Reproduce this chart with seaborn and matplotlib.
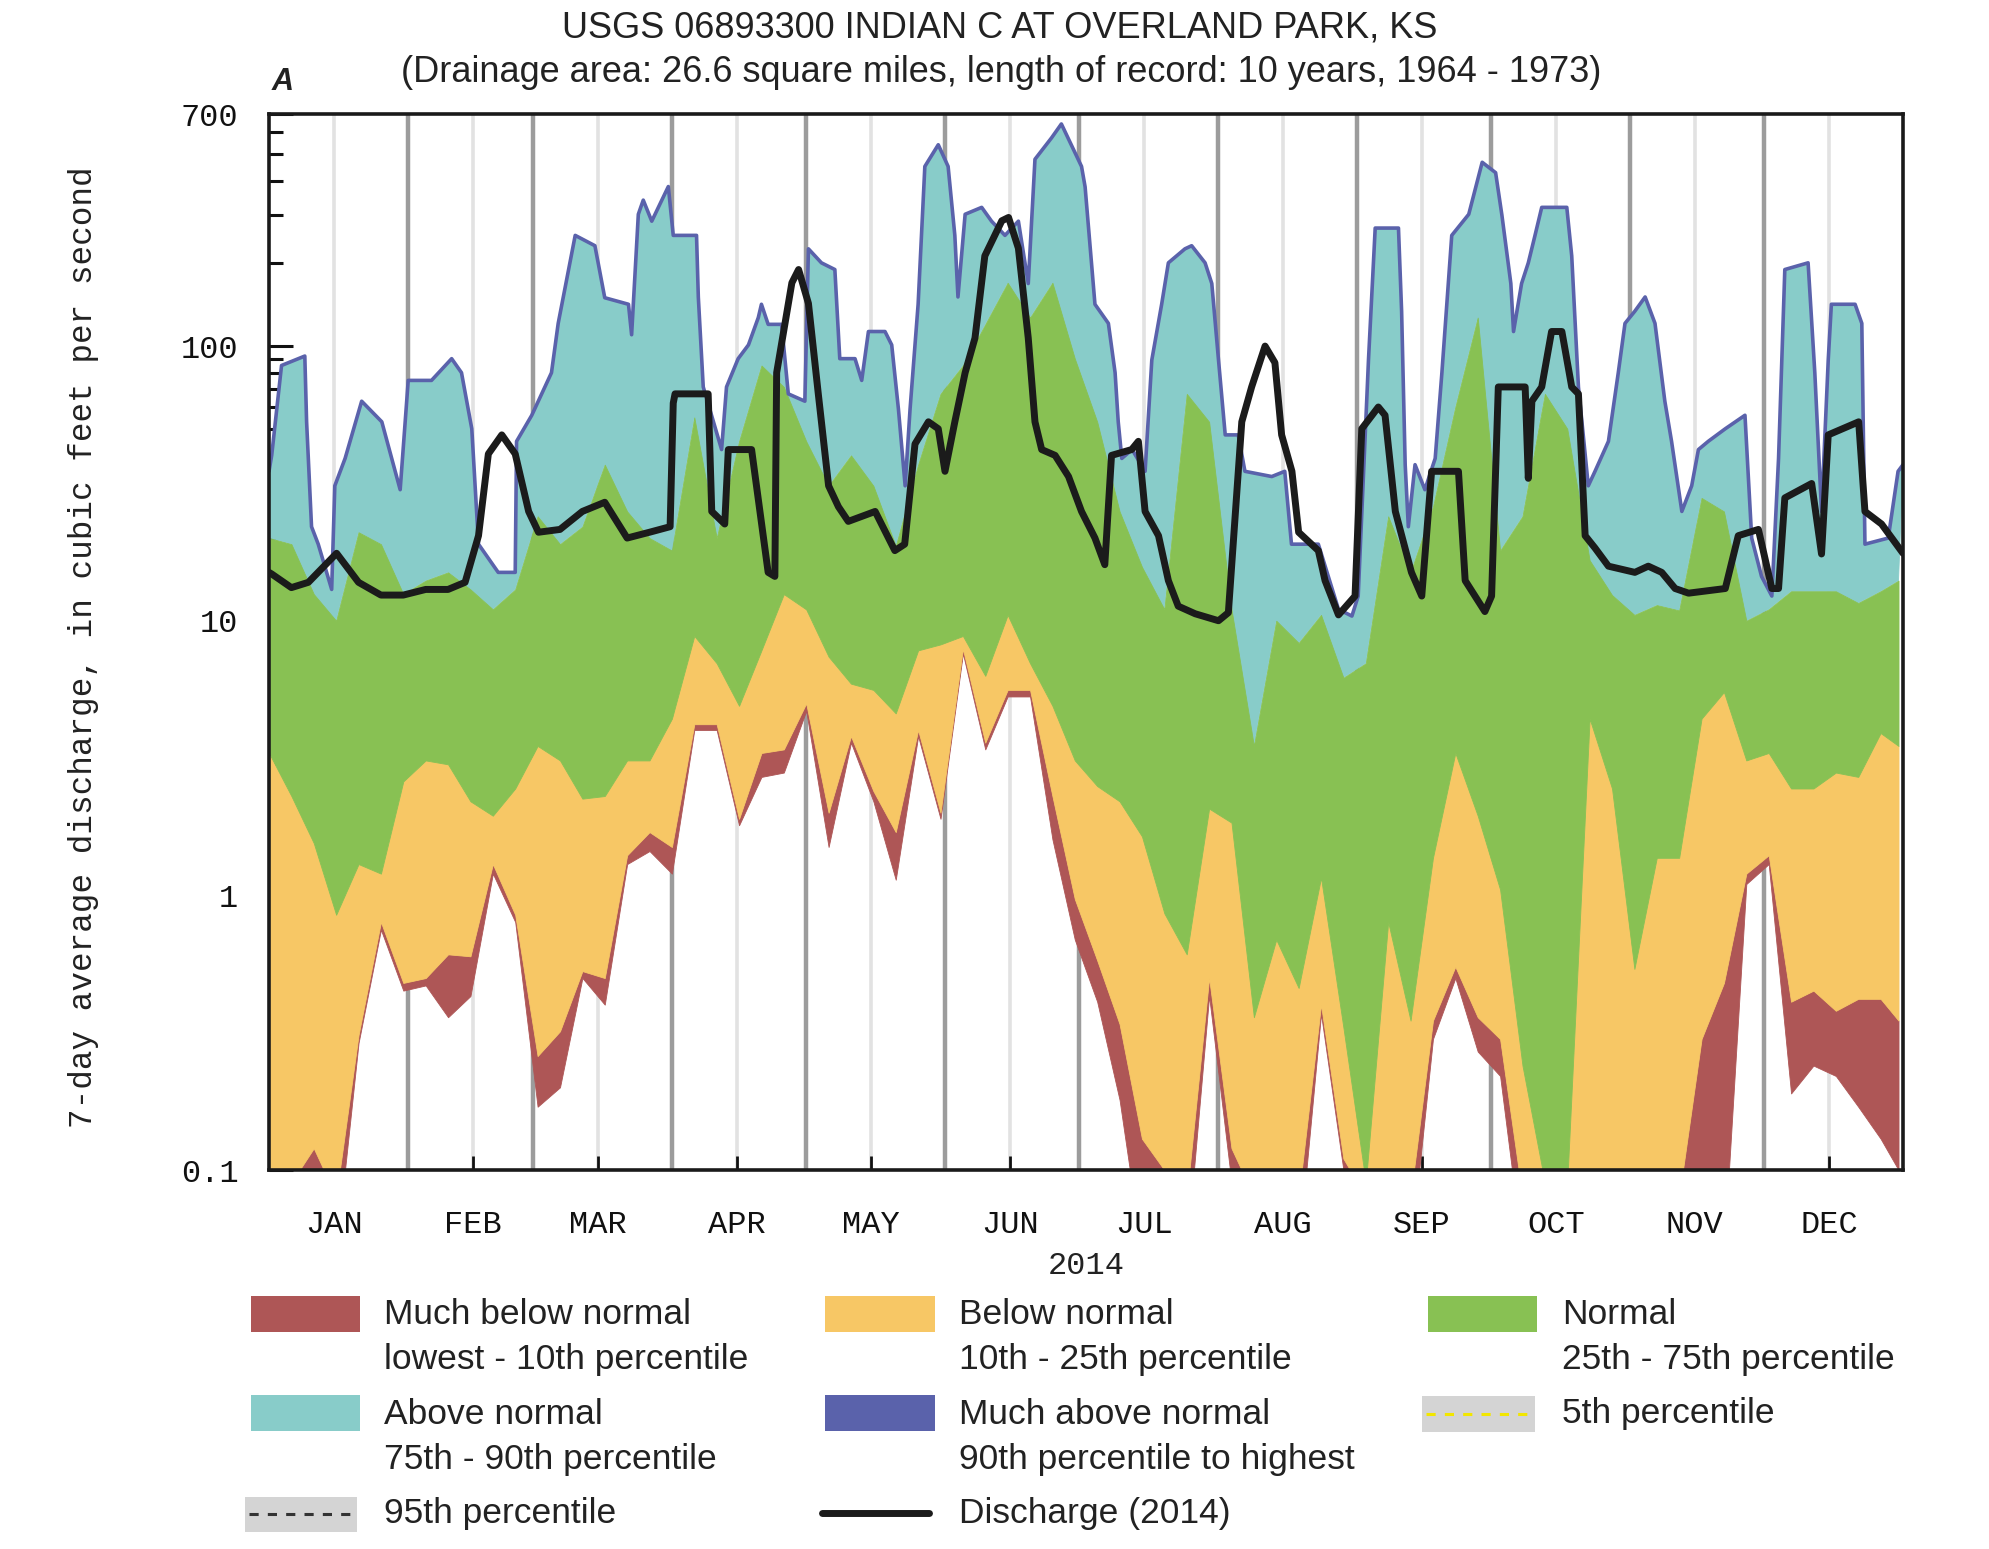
import matplotlib
matplotlib.use("Agg")
import matplotlib.pyplot as plt
from matplotlib.patches import Rectangle
from matplotlib.lines import Line2D
from matplotlib.ticker import FixedLocator, NullLocator
import pandas as pd
import seaborn as sns

# ---------------- data (7-day average discharge, cfs) ----------------
# percentile bands read on a 5-day grid (day of year, 0 = Jan 1)
days = list(range(0, 361, 5)) + [364]

pct_lowest = [0.05, 0.05, 0.05, 0.05, 0.29, 0.75, 0.45, 0.47, 0.36, 0.43,
              1.2, 0.8, 0.17, 0.2, 0.5, 0.4, 1.3, 1.45, 1.2, 4.0,
              4.0, 1.8, 2.7, 2.8, 4.7, 1.5, 3.6, 2.2, 1.14, 3.8,
              1.9, 7.6, 3.4, 5.3, 5.3, 1.6, 0.69, 0.41, 0.18, 0.05,
              0.09, 0.05, 0.43, 0.09, 0.05, 0.05, 0.05, 0.37, 0.1, 0.05,
              0.05, 0.05, 0.3, 0.5, 0.27, 0.22, 0.05, 0.05, 0.05, 0.05,
              0.05, 0.05, 0.05, 0.05, 0.05, 0.05, 1.1, 1.3, 0.19, 0.24,
              0.22, 0.17, 0.13, 0.1]

pct10 = [0.08, 0.09, 0.12, 0.08, 0.31, 0.8, 0.48, 0.5, 0.61, 0.6,
         1.3, 0.85, 0.26, 0.32, 0.53, 0.5, 1.4, 1.7, 1.5, 4.2,
         4.2, 1.9, 3.3, 3.4, 5.0, 2.0, 3.8, 2.4, 1.7, 4.0,
         2.0, 7.9, 3.6, 5.6, 5.6, 2.3, 0.97, 0.58, 0.34, 0.13,
         0.1, 0.08, 0.5, 0.12, 0.08, 0.08, 0.08, 0.4, 0.11, 0.08,
         0.08, 0.08, 0.35, 0.55, 0.36, 0.3, 0.08, 0.08, 0.08, 0.08,
         0.08, 0.08, 0.08, 0.08, 0.3, 0.48, 1.2, 1.4, 0.41, 0.45,
         0.38, 0.42, 0.42, 0.35]

pct25 = [3.3, 2.3, 1.55, 0.85, 1.3, 1.2, 2.6, 3.1, 3.0, 2.2,
         1.95, 2.45, 3.5, 3.1, 2.25, 2.3, 3.1, 3.1, 4.4, 8.8,
         7, 4.9, 7.8, 12.5, 11, 7.4, 5.9, 5.6, 4.6, 7.8,
         8.2, 8.8, 6.3, 10.5, 7, 4.9, 3.1, 2.5, 2.2, 1.64,
         0.86, 0.61, 2.07, 1.84, 0.36, 0.69, 0.46, 1.16, 0.33, 0.09,
         0.8, 0.35, 1.37, 3.3, 1.95, 1.05, 0.24, 0.09, 0.09, 4.4,
         2.45, 0.54, 1.37, 1.37, 4.4, 5.5, 3.1, 3.3, 2.45, 2.45,
         2.8, 2.7, 3.9, 3.5]

pct75 = [20, 19, 12.5, 10, 21, 19, 12.5, 14, 15, 13,
         11, 13, 24, 19, 22, 37, 25, 20, 18, 55,
         20, 45, 85, 71, 45, 31, 40, 31, 18.7, 37,
         67, 85, 120, 170, 127, 170, 90, 53, 25, 15.7,
         11, 67, 53, 11, 3.5, 10, 8.3, 10.5, 6.2, 7,
         24, 15, 26, 60, 127, 18, 24, 67, 50, 16.6,
         12.4, 10.5, 11.4, 10.9, 28, 25, 10, 11, 12.8, 12.8,
         12.8, 11.6, 12.8, 14]

# 90th percentile (top of "above normal", outlined in blue): (day, cfs)
pct90_points = [
    (0, 35), (0.6, 40), (2.8, 85), (8, 92), (8.4, 53), (9.5, 22), (11, 19),
    (14, 13), (14.7, 31), (17, 39), (20.7, 63), (25.2, 53), (27.4, 39),
    (29.3, 30), (31.1, 75), (36.3, 75), (40.8, 90), (43, 80), (45.3, 50),
    (46.8, 19), (51.2, 15), (55, 15), (55.3, 45), (58.7, 56), (63.1, 80),
    (64.6, 121), (68.4, 253), (72.8, 232), (75, 150), (80.3, 142), (81, 110),
    (82.5, 302), (83.6, 340), (85.5, 285), (89.2, 381), (90.3, 253),
    (95.5, 253), (95.9, 151), (97, 71), (101.1, 42), (102.2, 71), (104.8, 90),
    (107.1, 101), (109.3, 127), (110, 142), (111.5, 120), (114.5, 120),
    (116, 67), (119.7, 63), (120.5, 226), (123.4, 201), (126.4, 190),
    (127.5, 90), (130.9, 90), (132.4, 75), (133.9, 113), (137.6, 113),
    (139.1, 101), (140.6, 59), (142.1, 31), (143.2, 59), (145, 142),
    (146.5, 451), (149.5, 541), (151.7, 451), (153.2, 253), (153.9, 151),
    (155.5, 302), (159.2, 320), (161.4, 285), (164.4, 253), (167.4, 285),
    (169.6, 169), (171.1, 479), (174.8, 573), (177, 644), (181.5, 451),
    (182.3, 380), (184.5, 142), (187.5, 121), (189, 80), (189.7, 53),
    (190.5, 39), (192.8, 42), (195.7, 35), (197.2, 89), (199.4, 142),
    (200.9, 201), (204.6, 226), (206.1, 232), (209.1, 201), (210.6, 169),
    (212.1, 89), (213.6, 47.5), (216.5, 47.5), (218, 35), (224, 33.5),
    (226.9, 35), (228.4, 19), (234.4, 19), (238.9, 11), (241.9, 10.4),
    (243.3, 12.3), (245.6, 89), (247.1, 269), (252.3, 269), (253, 134),
    (253.8, 37), (254.5, 22), (256, 37), (258.2, 30), (260.5, 39), (262, 80),
    (264.2, 253), (268, 302), (271, 467), (274, 428),
    (275.4, 300), (277.4, 169), (278, 113), (279.8, 169), (281.3, 201),
    (282.8, 253), (284.3, 320), (289.9, 320), (291, 213), (292.5, 71),
    (294.7, 31), (296.2, 35), (299.2, 45), (301.4, 80), (302.9, 121),
    (305.1, 134), (307.4, 151), (309.6, 121), (311.8, 63), (313.3, 45),
    (315.6, 25), (317.8, 31), (319.3, 42), (321.5, 45), (325.3, 50),
    (329.7, 56), (331.2, 20), (333.4, 14.5), (335.7, 12.3), (337.2, 39),
    (338.6, 190), (343.8, 201), (345.3, 80), (346.8, 25), (348.3, 89),
    (349, 142), (354.3, 142), (355.8, 121), (356.5, 19), (361.7, 20),
    (363.9, 35), (365, 37)]

# 2014 daily discharge (7-day average): (day, cfs)
discharge_points = [
    (0, 15), (0.6, 14.8), (5, 13.2), (8.8, 13.8), (15.1, 17.6), (20, 13.8),
    (25, 12.4), (30, 12.4), (35, 13), (40, 13), (43.8, 13.8), (46.8, 20.4),
    (49, 40.5), (52, 47.5), (55, 40.5), (58, 25), (60.2, 21), (65, 21.5),
    (70, 25), (75, 27), (80, 20), (85, 21), (89.6, 22), (90.3, 62),
    (90.7, 67), (98.1, 67), (98.9, 25), (101.8, 22.5), (102.6, 42),
    (107.8, 42), (111.5, 15), (113, 14.5), (113.4, 80), (116.8, 170),
    (118.3, 190), (120.5, 143), (122.7, 67), (125, 31), (127.2, 26),
    (129.4, 23), (135.4, 25), (139.8, 18), (142, 19), (144.3, 44),
    (147.3, 53), (149.5, 50), (151, 35), (153.2, 53), (155.5, 80),
    (157.7, 107), (159.9, 213), (163.7, 286), (165.2, 294), (167.4, 227),
    (169.6, 107), (171.1, 53), (172.6, 42), (175.6, 40), (178.6, 33.5),
    (181.5, 25), (184.5, 20), (186.7, 16), (188.2, 40), (192.7, 42),
    (194.2, 45), (195.7, 25), (198.7, 20.4), (200.9, 14), (203.1, 11.3),
    (206.9, 10.6), (212.1, 10), (214.3, 10.7), (217.3, 53), (219.5, 71),
    (222.5, 100), (224.7, 87), (226.2, 47.5), (228.5, 35), (230, 21),
    (234.4, 18), (235.9, 14), (238.9, 10.5), (242.6, 12.3), (244.1, 50),
    (247.8, 60), (249.3, 56), (251.6, 25), (255.2, 15), (257.5, 12.3),
    (259.7, 35), (265.7, 35), (267.2, 14), (271.6, 10.8), (273.1, 12.3),
    (274.6, 71), (280.6, 71), (281.3, 33), (282.1, 63), (284.3, 71),
    (286.5, 113), (288.8, 113), (291, 71), (292.5, 67), (294, 20.4),
    (296.2, 18.4), (299.2, 15.8), (305.1, 15), (308.1, 15.8), (311.1, 15),
    (314.1, 13.1), (317.1, 12.6), (325.3, 13.1), (328.2, 20.4),
    (332.7, 21.5), (335.7, 13.1), (337.2, 13.1), (338.6, 28), (344.6, 31.6),
    (346.8, 17.5), (348.3, 47.5), (355.1, 53), (356.5, 25), (360.2, 22.5),
    (365, 17.6)]

month_labels = ["JAN", "FEB", "MAR", "APR", "MAY", "JUN",
                "JUL", "AUG", "SEP", "OCT", "NOV", "DEC"]
month_starts = [0, 31, 59, 90, 120, 151, 181, 212, 243, 273, 304, 334]
y_major = [0.1, 1, 10, 100, 700]
y_major_labels = ["0.1", "1", "10", "100", "700"]

# ---------------- style ----------------
RED = "#ae5656"
YEL = "#f7c765"
GRN = "#88c153"
CYN = "#88ccc9"
BLU = "#5a62ab"
GRAY_PATCH = "#d4d4d4"

sns.set_theme(style="white")
plt.rcParams["font.family"] = ["Liberation Sans", "DejaVu Sans"]
MONO = ["Liberation Mono", "DejaVu Sans Mono"]

W, H = 1989, 1549
fig = plt.figure(figsize=(W / 100, H / 100), dpi=100)
fig.patch.set_facecolor("white")


def fx(px):
    return px / W


def fy(py):
    return 1 - py / H


ax = fig.add_axes([fx(269), fy(1170), (1903 - 269) / W, (1170 - 114) / H])
ax.set_facecolor("white")
ax.set_yscale("log")
ax.set_ylim(0.1, 700)
ax.set_xlim(0, 365)

# vertical guide lines (behind data)
mids = [s + 14.5 for s in month_starts]
for s in month_starts[1:]:
    ax.axvline(s, color="#9c9c9c", lw=3.2, zorder=0.5)
for m in mids:
    ax.axvline(m, color="#e2e2e2", lw=2.6, zorder=0.5)

# percentile bands
p90_days = [p[0] for p in pct90_points]
p90_vals = [p[1] for p in pct90_points]
ax.fill(p90_days + days[::-1], p90_vals + pct75[::-1], color=CYN, lw=0.6,
        edgecolor=CYN, zorder=2)
bands = [(pct_lowest, pct10, RED), (pct10, pct25, YEL), (pct25, pct75, GRN)]
for lo, hi, c in bands:
    ax.fill_between(days, lo, hi, color=c, lw=0.6, edgecolor=c, zorder=2.2)
ax.plot(p90_days, p90_vals, color=BLU, lw=2.6, zorder=3)

# discharge line via seaborn
df = pd.DataFrame(discharge_points, columns=["day", "discharge"])
sns.lineplot(data=df, x="day", y="discharge", ax=ax, color="#1b1b1b",
             lw=5.0, zorder=5, legend=False, sort=False)
ax.set_xlabel("")
ax.set_ylabel("")

# ticks
ax.set_xticks(mids)
ax.set_xticklabels(month_labels, fontfamily=MONO, fontsize=23)
ax.xaxis.set_minor_locator(NullLocator())
ax.tick_params(axis="x", direction="in", length=10, width=2, pad=29,
               bottom=True, top=False, colors="#111111")
ax.set_yticks(y_major)
ax.set_yticklabels(y_major_labels, fontfamily=MONO, fontsize=23)
minor = [k * 10.0 ** e for e in (-1, 0, 1, 2) for k in range(2, 10)
         if k * 10.0 ** e < 700]
ax.yaxis.set_minor_locator(FixedLocator(minor))
ax.tick_params(axis="y", which="major", direction="in", length=17, width=2.2,
               pad=22, left=True, right=False, colors="#111111")
ax.tick_params(axis="y", which="minor", direction="in", length=10, width=2.2,
               left=True, right=False, colors="#111111")
ax.yaxis.set_tick_params(which="minor", labelleft=False)
for sp in ax.spines.values():
    sp.set_color("#1a1a1a")
    sp.set_linewidth(2.6)
    sp.set_zorder(6)
ax.grid(False)

# texts
fig.text(fx(1000), fy(28), "USGS 06893300 INDIAN C AT OVERLAND PARK, KS",
         ha="center", va="center", fontsize=26, color="#222222")
fig.text(fx(1001), fy(72),
         "(Drainage area: 26.6 square miles, length of record: 10 years, 1964 - 1973)",
         ha="center", va="center", fontsize=26, color="#222222")
fig.text(fx(283), fy(82), "A", ha="center", va="center", fontsize=22,
         fontweight="bold", fontstyle="italic", color="#222222")
fig.text(fx(84), fy(647), "7-day average discharge, in cubic feet per second",
         rotation=90, ha="center", va="center", fontsize=23.5,
         fontfamily=MONO, color="#222222")
fig.text(fx(1086), fy(1266), "2014", ha="center", va="center", fontsize=23,
         fontfamily=MONO, color="#222222")

# legend (manual layout)
LEG_FS = 25.5


def patch(x0, x1, y0, y1, color):
    fig.add_artist(Rectangle((fx(x0), fy(y1)), fx(x1) - fx(x0), fy(y0) - fy(y1),
                             transform=fig.transFigure, facecolor=color,
                             edgecolor="none"))


def label(x, y, s):
    fig.text(fx(x), fy(y), s, ha="left", va="center", fontsize=LEG_FS,
             color="#222222")


patch(251, 360, 1296, 1332, RED)
label(384, 1315, "Much below normal")
label(384, 1359, "lowest - 10th percentile")
patch(825, 935, 1296, 1332, YEL)
label(959, 1315, "Below normal")
label(959, 1359, "10th - 25th percentile")
patch(1428, 1537, 1296, 1332, GRN)
label(1562, 1315, "Normal")
label(1562, 1359, "25th - 75th percentile")

patch(251, 360, 1395, 1431, CYN)
label(384, 1414, "Above normal")
label(384, 1459, "75th - 90th percentile")
patch(825, 935, 1395, 1431, BLU)
label(959, 1414, "Much above normal")
label(959, 1459, "90th percentile to highest")
patch(1422, 1535, 1396, 1432, GRAY_PATCH)
fig.add_artist(Line2D([fx(1426), fx(1531)], [fy(1414), fy(1414)],
                      transform=fig.transFigure, color="#f2e600", lw=2.2,
                      ls=(0, (3, 3))))
label(1562, 1413, "5th percentile")

patch(245, 357, 1497, 1532, GRAY_PATCH)
fig.add_artist(Line2D([fx(249), fx(353)], [fy(1514), fy(1514)],
                      transform=fig.transFigure, color="#333333", lw=2.2,
                      ls=(0, (3, 3))))
label(384, 1513, "95th percentile")
fig.add_artist(Line2D([fx(822), fx(929)], [fy(1513), fy(1513)],
                      transform=fig.transFigure, color="#1b1b1b", lw=5.0))
label(959, 1513, "Discharge (2014)")

fig.savefig("out.png", dpi=100, facecolor="white")
